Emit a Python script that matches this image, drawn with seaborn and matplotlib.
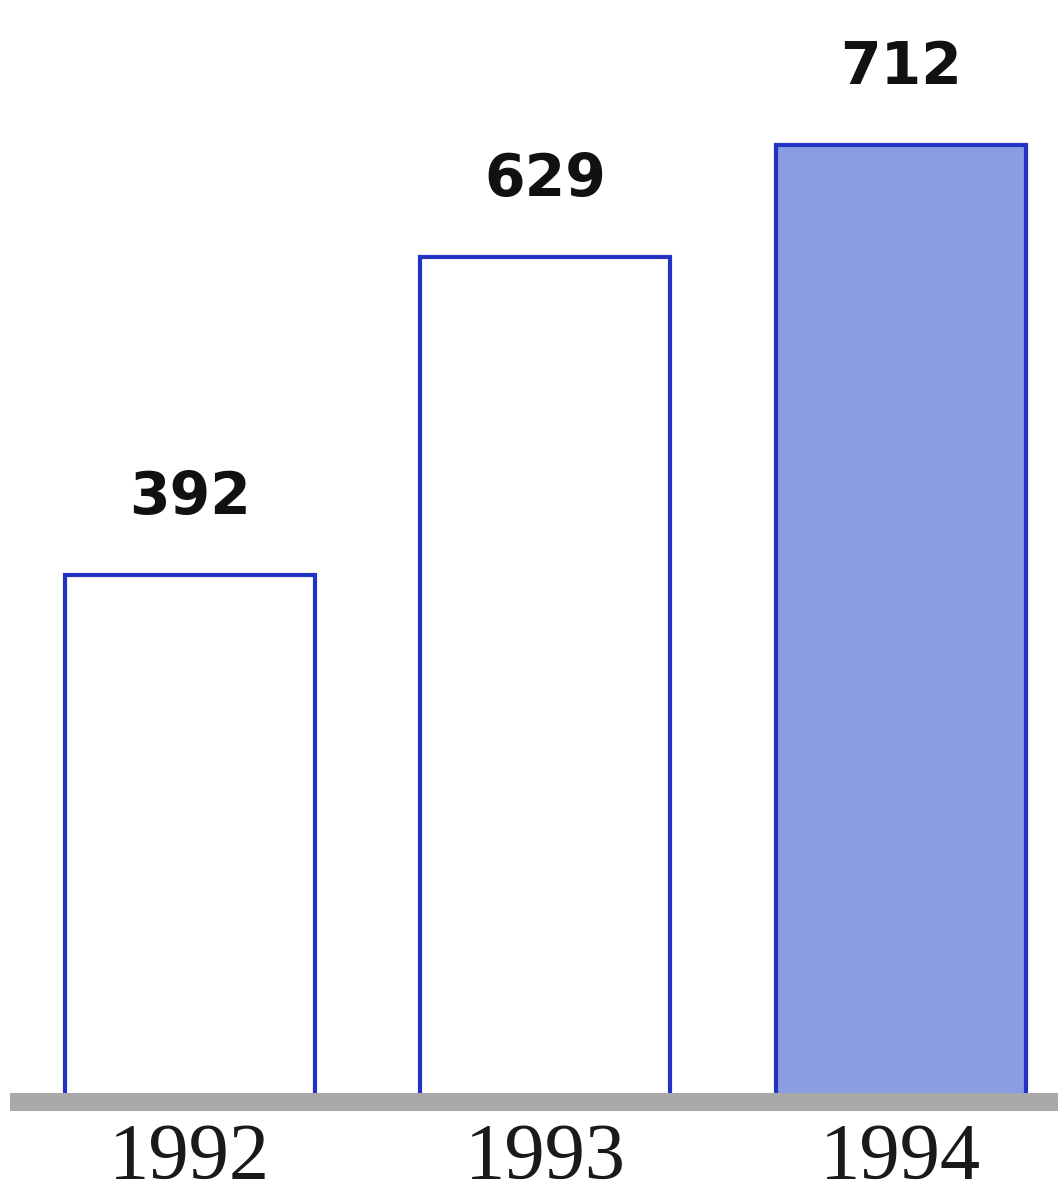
import matplotlib
matplotlib.use("Agg")
import matplotlib.pyplot as plt
import seaborn as sns
import pandas as pd

years = ["1992", "1993", "1994"]
values = [392, 629, 712]
bar_colors = ["#ffffff", "#ffffff", "#8a9de3"]

sns.set_style("white")

W, H = 1058, 1202
fig = plt.figure(figsize=(W / 100, H / 100), dpi=100)
fig.patch.set_facecolor("white")
ax = fig.add_axes([10 / W, 100 / H, 1048 / W, 1102 / H])

df = pd.DataFrame({"year": years, "value": values})
sns.barplot(data=df, x="year", y="value", hue="year", palette=bar_colors,
            edgecolor="#2233c4", linewidth=3, width=0.703, legend=False,
            saturation=1, ax=ax)

ax.set_xlim(-0.506, 2.442)
ax.set_ylim(0, 820)
ax.set_xlabel("")
ax.set_ylabel("")
ax.set_yticks([])

for s in ["top", "left", "right"]:
    ax.spines[s].set_visible(False)
ax.spines["bottom"].set_color("#a9a9a9")
ax.spines["bottom"].set_linewidth(13)
ax.spines["bottom"].set_capstyle("butt")
ax.spines["bottom"].set_zorder(5)

ax.tick_params(axis="x", length=0, pad=15)
for lbl in ax.get_xticklabels():
    lbl.set_fontfamily("Liberation Serif")
    lbl.set_fontsize(58)
    lbl.set_color("#1a1a1a")

for i, v in enumerate(values):
    ax.annotate(f"{v}", xy=(i, v), xytext=(0, 44), textcoords="offset points",
                ha="center", va="baseline", fontsize=42, fontweight="bold",
                family="DejaVu Sans", color="#111111")

fig.savefig("out.png", dpi=100)
